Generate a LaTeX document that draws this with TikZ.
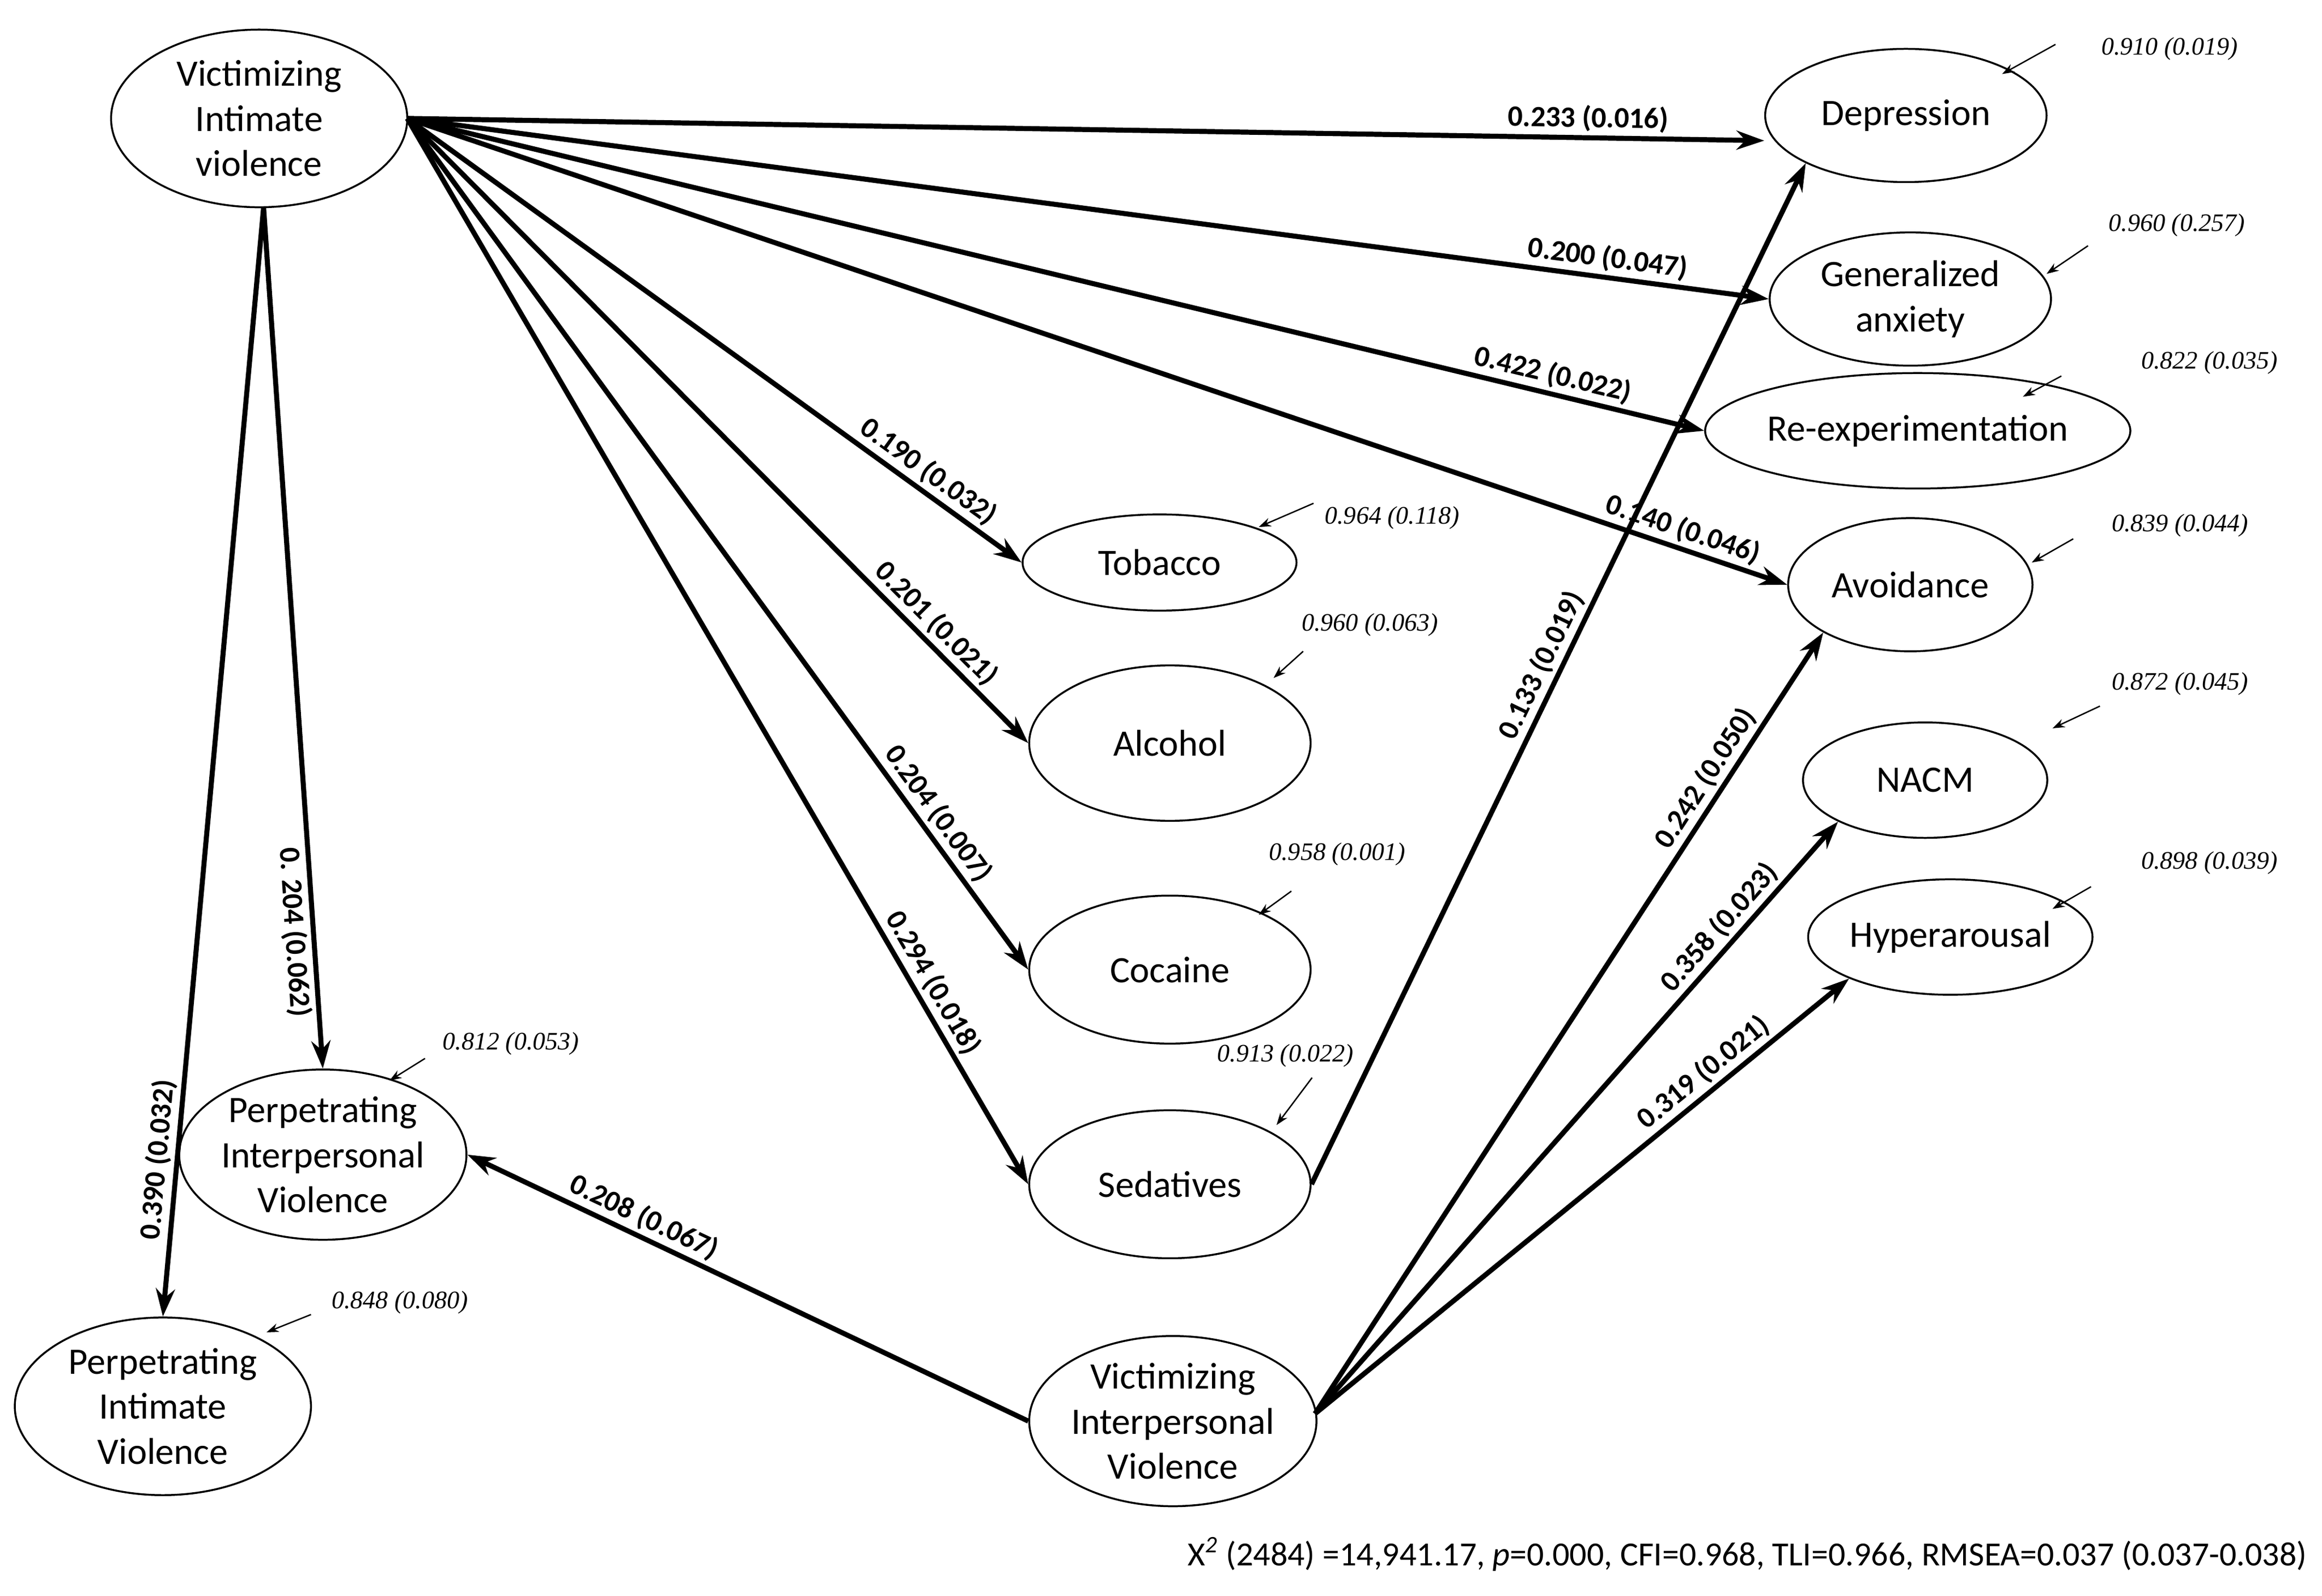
\documentclass[tikz,border=0pt]{standalone}
\usepackage{fontspec}
\setmainfont{Carlito}
\newfontfamily\resfont{Liberation Serif}
\usetikzlibrary{shapes.geometric,arrows.meta}
\begin{document}
\begin{tikzpicture}[x=0.03cm,y=-0.03cm,
 lat/.style={ellipse,draw,line width=1.1pt,inner sep=0pt,font=\fontsize{21.5}{26}\selectfont,align=center},
 path/.style={line width=2.9pt,-{Stealth[length=16pt,width=11pt]}},
 lab/.style={font=\bfseries\fontsize{17}{20}\selectfont,sloped,inner sep=2pt},
 res/.style={font=\resfont\itshape\fontsize{14.5}{17}\selectfont},
 resarr/.style={line width=0.8pt,-{Stealth[length=7pt,width=5pt]}}]
\useasboundingbox (0,0) rectangle (1568,1078);
\node[lat,minimum width=200*0.03cm,minimum height=120*0.03cm] (viv) at (175,80) {Victimizing\\Intimate\\violence};
\node[lat,minimum width=190*0.03cm,minimum height=90*0.03cm] (dep) at (1287,78) {Depression};
\node[lat,minimum width=190*0.03cm,minimum height=90*0.03cm] (ga) at (1290,202) {Generalized\\anxiety};
\node[lat,minimum width=275*0.03cm,minimum height=78*0.03cm] (re) at (1295,291) {Re-experimentation};
\node[lat,minimum width=165*0.03cm,minimum height=90*0.03cm] (av) at (1290,395) {Avoidance};
\node[lat,minimum width=165*0.03cm,minimum height=78*0.03cm] (nacm) at (1300,527) {NACM};
\node[lat,minimum width=165*0.03cm,minimum height=78*0.03cm] (hyp) at (1317,633) {Hyperarousal};
\node[lat,minimum width=185*0.03cm,minimum height=65*0.03cm] (tob) at (783,380) {Tobacco};
\node[lat,minimum width=190*0.03cm,minimum height=105*0.03cm] (alc) at (790,502) {Alcohol};
\node[lat,minimum width=190*0.03cm,minimum height=100*0.03cm] (coc) at (790,655) {Cocaine};
\node[lat,minimum width=190*0.03cm,minimum height=100*0.03cm] (sed) at (790,800) {Sedatives};
\node[lat,minimum width=145*0.03cm,minimum height=115*0.03cm] (piv) at (218,780) {Perpetrating\\Interpersonal\\Violence};
\node[lat,minimum width=200*0.03cm,minimum height=120*0.03cm] (pint) at (110,950) {Perpetrating\\Intimate\\Violence};
\node[lat,minimum width=185*0.03cm,minimum height=115*0.03cm] (vipv) at (792,960) {Victimizing\\Interpersonal\\Violence};

\coordinate (vivE) at (275,80);
\coordinate (vivS) at (178,140);
\draw[path] (vivE) -- (dep.west|-0,95) node[lab,pos=0.87,above] {0.233 (0.016)};
\draw[path] (vivE) -- (ga.west) node[lab,pos=0.88,above] {0.200 (0.047)};
\draw[path] (vivE) -- (re.west) node[lab,pos=0.88,above] {0.422 (0.022)};
\draw[path] (vivE) -- (av.west) node[lab,pos=0.92,above] {0.140 (0.046)};
\draw[path] (vivE) -- (tob.west) node[lab,pos=0.83,above] {0.190 (0.032)};
\draw[path] (vivE) -- (alc.west) node[lab,pos=0.83,above] {0.201 (0.021)};
\draw[path] (vivE) -- (coc.west) node[lab,pos=0.83,above] {0.204 (0.007)};
\draw[path] (vivE) -- (sed.west) node[lab,pos=0.82,above] {0.294 (0.018)};
\draw[path] (vivS) -- (piv.north) node[lab,pos=0.84,below] {0. 204 (0.062)};
\draw[path] (vivS) -- (pint.north) node[lab,pos=0.86,above] {0.390 (0.032)};
\draw[path] (vipv.west) -- (piv.east) node[lab,pos=0.7,above] {0.208 (0.067)};
\draw[path] (sed.east) -- (dep.south west) node[lab,pos=0.5,above] {0.133 (0.019)};
\coordinate (vipvE) at (888,955);
\draw[path] (vipvE) -- (av.south west) node[lab,pos=0.8,above] {0.242 (0.050)};
\draw[path] (vipvE) -- (nacm.south west) node[lab,pos=0.8,above] {0.358 (0.023)};
\draw[path] (vipvE) -- (hyp.south west) node[lab,pos=0.75,above] {0.319 (0.021)};

\node[res] (r1) at (1465,33) {0.910 (0.019)};
\node[res] (r2) at (1470,152) {0.960 (0.257)};
\node[res] (r3) at (1492,245) {0.822 (0.035)};
\node[res] (r4) at (1472,355) {0.839 (0.044)};
\node[res] (r5) at (1472,462) {0.872 (0.045)};
\node[res] (r6) at (1492,583) {0.898 (0.039)};
\node[res] (r7) at (940,350) {0.964 (0.118)};
\node[res] (r8) at (925,422) {0.960 (0.063)};
\node[res] (r9) at (903,577) {0.958 (0.001)};
\node[res] (r10) at (868,713) {0.913 (0.022)};
\node[res] (r11) at (345,705) {0.812 (0.053)};
\node[res] (r12) at (270,880) {0.848 (0.080)};
\draw[resarr] (1388,30) -- (1352,50);
\draw[resarr] (1410,166) -- (1382,185);
\draw[resarr] (1392,254) -- (1366,268);
\draw[resarr] (1400,364) -- (1372,380);
\draw[resarr] (1418,477) -- (1386,492);
\draw[resarr] (1412,599) -- (1386,614);
\draw[resarr] (887,340) -- (850,356);
\draw[resarr] (880,440) -- (860,458);
\draw[resarr] (872,602) -- (850,618);
\draw[resarr] (886,728) -- (862,760);
\draw[resarr] (287,715) -- (263,730);
\draw[resarr] (210,888) -- (180,900);

\node[anchor=east,font=\fontsize{19.5}{23}\selectfont] (fit) at (1562,1050) {X\textit{\textsuperscript{2}} (2484) =14,941.17, \textit{p}=0.000, CFI=0.968, TLI=0.966, RMSEA=0.037 (0.037-0.038)};
\end{tikzpicture}
\end{document}
